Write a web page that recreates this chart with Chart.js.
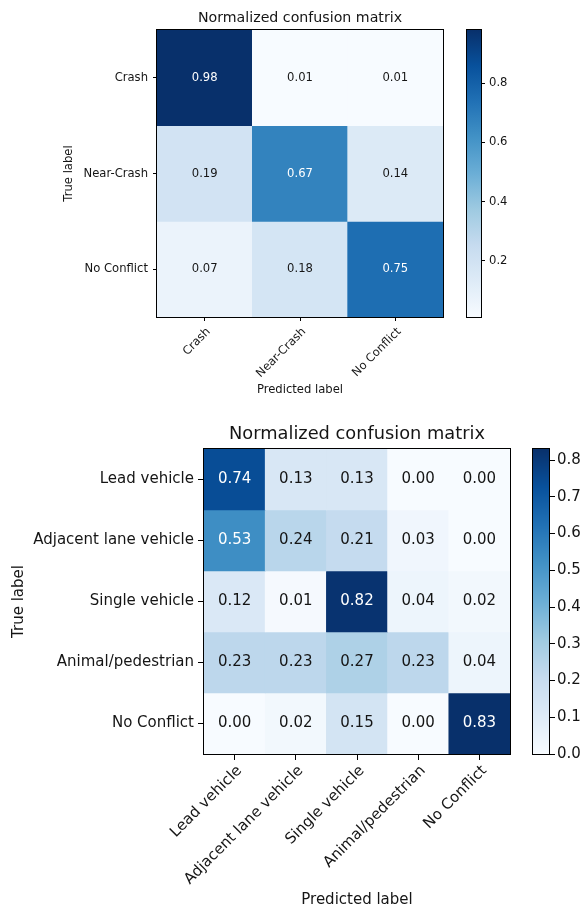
<!DOCTYPE html>
<html><head><meta charset="utf-8">
<script src="https://cdn.jsdelivr.net/npm/chart.js@4.4.1/dist/chart.umd.min.js"></script>
<style>
html,body{margin:0;padding:0;background:#fff;}
#wrap{position:relative;width:584px;height:909px;overflow:hidden;background:#fff;}
canvas{position:absolute;}
</style></head><body>
<div id="wrap">
<canvas id="m1" width="455" height="405" style="left:0;top:0;width:455px;height:405px"></canvas>
<canvas id="c1" width="144" height="405" style="left:440px;top:0;width:144px;height:405px"></canvas>
<canvas id="m2" width="525" height="499" style="left:0;top:410px;width:525px;height:499px"></canvas>
<canvas id="c2" width="79" height="499" style="left:505px;top:410px;width:79px;height:499px"></canvas>
</div>
<script>
// ---- data ----
const labels1 = ['Crash', 'Near-Crash', 'No Conflict'];
const cm1 = [
  [0.98, 0.01, 0.01],
  [0.19, 0.67, 0.14],
  [0.07, 0.18, 0.75]
];
const cbTicks1 = [0.2, 0.4, 0.6, 0.8];

const labels2 = ['Lead vehicle', 'Adjacent lane vehicle', 'Single vehicle', 'Animal/pedestrian', 'No Conflict'];
const cm2 = [
  [0.74, 0.13, 0.13, 0.00, 0.00],
  [0.53, 0.24, 0.21, 0.03, 0.00],
  [0.12, 0.01, 0.82, 0.04, 0.02],
  [0.23, 0.23, 0.27, 0.23, 0.04],
  [0.00, 0.02, 0.15, 0.00, 0.83]
];
const cbTicks2 = [0.0, 0.1, 0.2, 0.3, 0.4, 0.5, 0.6, 0.7, 0.8];

const titleText = 'Normalized confusion matrix';
const xTitleText = 'Predicted label';
const yTitleText = 'True label';

// ---- style ----
const BLUES = ['#f7fbff','#deebf7','#c6dbef','#9ecae1','#6baed6','#4292c6','#2171b5','#08519c','#08306b'];
const TXT = '#151515';
Chart.defaults.font.family = "'DejaVu Sans', sans-serif";
Chart.defaults.color = TXT;

function hex2rgb(h){ return [1,3,5].map(i => parseInt(h.substr(i,2),16)); }
const BL = BLUES.map(hex2rgb);
function blues(t){
  t = Math.max(0, Math.min(1, t));
  const p = t * (BL.length - 1);
  const i = Math.min(Math.floor(p), BL.length - 2);
  const f = p - i;
  const c = BL[i].map((v, k) => Math.round(v + (BL[i+1][k] - v) * f));
  return `rgb(${c[0]},${c[1]},${c[2]})`;
}

const framePlugin = {
  id: 'frame',
  afterDraw(chart){
    const a = chart.chartArea, ctx = chart.ctx;
    ctx.save();
    ctx.strokeStyle = '#000';
    ctx.lineWidth = 1;
    ctx.strokeRect(Math.round(a.left) - 0.5, Math.round(a.top) - 0.5,
                   Math.round(a.right) - Math.round(a.left) + 1, Math.round(a.bottom) - Math.round(a.top) + 1);
    ctx.restore();
  }
};

function cellTextPlugin(cm, fs){
  const flat = cm.flat();
  const thresh = Math.max(...flat) / 2;
  return {
    id: 'cellText',
    afterDatasetsDraw(chart){
      const ctx = chart.ctx;
      ctx.save();
      ctx.font = `${fs}px 'DejaVu Sans', sans-serif`;
      ctx.textAlign = 'center';
      ctx.textBaseline = 'middle';
      chart.data.datasets.forEach((ds, r) => {
        chart.getDatasetMeta(r).data.forEach((el, c) => {
          const v = cm[r][c];
          const p = el.getCenterPoint();
          ctx.fillStyle = v > thresh ? '#fff' : TXT;
          ctx.fillText(v.toFixed(2), p.x, p.y);
        });
      });
      ctx.restore();
    }
  };
}

function matrixChart(id, rows, cols, cm, s){
  const flat = cm.flat();
  const vmin = Math.min(...flat), vmax = Math.max(...flat);
  const datasets = rows.map((name, r) => ({
    label: name,
    data: cols.map(() => [r, r + 1]),
    backgroundColor: cols.map((_, c) => blues((cm[r][c] - vmin) / (vmax - vmin))),
    borderWidth: 0,
    barPercentage: 1,
    categoryPercentage: 1
  }));
  return new Chart(document.getElementById(id), {
    type: 'bar',
    data: { labels: cols, datasets },
    options: {
      responsive: false, animation: false, events: [],
      layout: { padding: { left: 0, top: 0, bottom: 0, right: s.padRight } },
      plugins: {
        legend: { display: false }, tooltip: { enabled: false },
        title: { display: true, fullSize: false, text: titleText, color: TXT, font: { size: s.titleSize, weight: 'normal' },
                 padding: { top: s.titlePadTop, bottom: s.titlePadBottom } }
      },
      scales: {
        x: {
          type: 'category', stacked: true, offset: true,
          grid: { display: true, drawOnChartArea: false, drawTicks: true, tickLength: s.tickLen, offset: false, color: '#000', lineWidth: 1 },
          border: { display: false },
          ticks: { autoSkip: false, maxRotation: 45, minRotation: 45, padding: s.xTickPad, labelOffset: s.labelOffset,
                   font: { size: s.fs }, color: TXT },
          title: { display: true, text: xTitleText, color: TXT, font: { size: s.fs }, padding: { top: 0, bottom: s.xTitlePad } },
          afterFit(sc){ sc.height = s.xHeight; }
        },
        y: {
          type: 'linear', min: 0, max: rows.length, reverse: true,
          grid: { display: true, drawOnChartArea: false, drawTicks: true, tickLength: s.tickLen, color: '#000', lineWidth: 1 },
          border: { display: false },
          ticks: { autoSkip: false, padding: s.yTickPad, font: { size: s.fs }, color: TXT,
                   callback: (v, i) => rows[i] },
          afterBuildTicks(sc){ sc.ticks = rows.map((_, i) => ({ value: i + 0.5 })); },
          title: { display: true, text: yTitleText, color: TXT, font: { size: s.fs }, padding: { top: s.yTitlePad, bottom: 0 } },
          afterFit(sc){ sc.width = s.yWidth; }
        }
      }
    },
    plugins: [cellTextPlugin(cm, s.fs), framePlugin]
  });
}

function colorbarChart(id, cm, ticks, s){
  const flat = cm.flat();
  const vmin = Math.min(...flat), vmax = Math.max(...flat);
  return new Chart(document.getElementById(id), {
    type: 'bar',
    data: { labels: [''], datasets: [{
      data: [[vmin, vmax]],
      backgroundColor: (c) => {
        const a = c.chart.chartArea;
        if (!a) return BLUES[0];
        const g = c.chart.ctx.createLinearGradient(0, a.bottom, 0, a.top);
        BLUES.forEach((col, k) => g.addColorStop(k / (BLUES.length - 1), col));
        return g;
      },
      borderWidth: 0, barPercentage: 1, categoryPercentage: 1
    }]},
    options: {
      responsive: false, animation: false, events: [],
      layout: { padding: { left: s.left, top: s.top, bottom: s.bottom, right: 0 } },
      plugins: { legend: { display: false }, tooltip: { enabled: false } },
      scales: {
        x: { display: false },
        y: {
          position: 'right', min: vmin, max: vmax,
          grid: { display: true, drawOnChartArea: false, drawTicks: true, tickLength: s.tickLen, color: '#000', lineWidth: 1 },
          border: { display: false },
          ticks: { font: { size: s.fs }, padding: s.tickPad, color: TXT, callback: (v) => v.toFixed(1) },
          afterBuildTicks(sc){ sc.ticks = ticks.map(v => ({ value: v })); },
          afterFit(sc){ sc.width = s.yWidth; }
        }
      }
    },
    plugins: [framePlugin]
  });
}

matrixChart('m1', labels1, labels1, cm1, {
  fs: 11.6, titleSize: 14.2, titlePadTop: 10, titlePadBottom: 2.96,
  yWidth: 157, xHeight: 88, padRight: 12, tickLen: 4, xTickPad: 4, yTickPad: 5, labelOffset: 4,
  xTitlePad: 8, yTitlePad: 62
});
colorbarChart('c1', cm1, cbTicks1, { left: 27, top: 30, bottom: 88, yWidth: 103, tickLen: 4, tickPad: 4, fs: 11.6 });

matrixChart('m2', labels2, labels2, cm2, {
  fs: 15, titleSize: 17.8, titlePadTop: 13.3, titlePadBottom: 4.34,
  yWidth: 204, xHeight: 155, padRight: 15, tickLen: 6, xTickPad: 2, yTickPad: 4, labelOffset: 5,
  xTitlePad: 0, yTitlePad: 10
});
colorbarChart('c2', cm2, cbTicks2, { left: 28, top: 39, bottom: 155, yWidth: 35, tickLen: 6, tickPad: 2, fs: 15 });
</script>
</body></html>
